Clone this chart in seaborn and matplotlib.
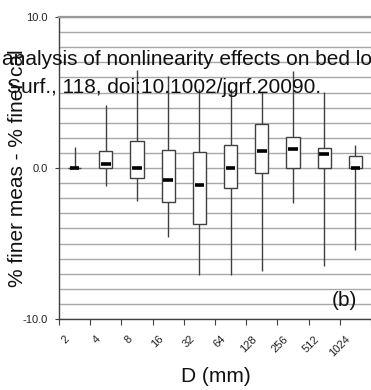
import numpy as np
import pandas as pd
import matplotlib
matplotlib.use("Agg")
import matplotlib.pyplot as plt
from matplotlib.transforms import ScaledTranslation
import seaborn as sns

# Grain-size classes (mm) and the five-number summary of the residuals
sizes = ["2", "4", "8", "16", "32", "64", "128", "256", "512", "1024"]
whisker_low = [0.0, -1.17, -2.2, -4.6, -7.07, -7.07, -6.85, -2.3, -6.47, -5.41]
q1 = [0.0, 0.0, -0.66, -2.28, -3.7, -1.32, -0.33, 0.0, 0.0, 0.0]
median = [0.0, 0.28, 0.0, -0.78, -1.1, 0.0, 1.1, 1.28, 0.93, 0.0]
q3 = [0.0, 1.1, 1.76, 1.17, 1.03, 1.52, 2.93, 2.05, 1.32, 0.81]
whisker_high = [1.4, 4.2, 6.5, 6.1, 5.2, 5.2, 5.05, 6.4, 5.05, 1.5]

ytick_values = [-10, 0, 10]
ytick_labels = ["-10.0", "0.0", "10.0"]

citation_line1 = "analysis of nonlinearity effects on bed load"
citation_line2 = "Surf., 118, doi:10.1002/jgrf.20090."

# long-form table: each class carries its own summary values
rows = []
for s, lo, a, m, b, hi in zip(sizes, whisker_low, q1, median, q3, whisker_high):
    for v in (lo, a, m, b, hi):
        rows.append({"D": s, "diff": v})
df = pd.DataFrame(rows)

sns.set_theme(style="white")
plt.rcParams["font.family"] = ["Liberation Sans", "DejaVu Sans"]
plt.rcParams["axes.unicode_minus"] = False

W, H = 371, 390
fig = plt.figure(figsize=(W / 100, H / 100), dpi=100)
ax = fig.add_axes([59 / W, 1 - 319 / H, 312 / W, 302 / H])
ax.set_facecolor("white")

edge = "#404040"
median_width = 2.6
sns.boxplot(
    data=df, x="D", y="diff", order=sizes, ax=ax,
    whis=(0, 100), width=0.42, showcaps=False, showfliers=False,
    boxprops=dict(facecolor="white", edgecolor=edge, linewidth=1.0),
    whiskerprops=dict(color=edge, linewidth=1.0),
    medianprops=dict(color="black", linewidth=median_width),
    linecolor=edge,
)

# median bars a little narrower than the boxes
for line in ax.lines:
    if abs(line.get_linewidth() - median_width) < 1e-6:
        xd = np.asarray(line.get_xdata(), dtype=float)
        c = xd.mean()
        half = (xd.max() - xd.min()) / 2 * 0.72
        line.set_xdata([c - half, c + half])

ax.set_xlim(-0.5, len(sizes) - 0.5)
ax.set_ylim(-10, 10)

# horizontal grid every unit, behind the boxes
ax.set_yticks(ytick_values)
ax.set_yticklabels(ytick_labels)
ax.set_yticks(np.arange(-10, 11), minor=True)
ax.grid(True, axis="y", which="both", color="#a8a8a8", linewidth=1.0)
ax.grid(False, axis="x")
ax.set_axisbelow(True)

ax.tick_params(axis="y", which="major", length=3, width=0.8, color=edge,
               pad=5, labelsize=8, labelcolor="#222222", left=True)
ax.tick_params(axis="y", which="minor", length=0)

# category boundaries get the tick marks, the labels sit under the boxes
ax.set_xticks(np.arange(-0.5, len(sizes)), minor=True)
ax.tick_params(axis="x", which="minor", length=4, width=0.8, color=edge,
               bottom=True)
ax.tick_params(axis="x", which="major", length=0, pad=13.3, labelsize=8,
               labelcolor="#222222")
shift = ScaledTranslation(-6.5 / 100, 0, fig.dpi_scale_trans)
for lab in ax.get_xticklabels():
    lab.set_rotation(45)
    lab.set_ha("right")
    lab.set_va("center")
    lab.set_rotation_mode("anchor")
    lab.set_transform(lab.get_transform() + shift)

for side in ("left", "bottom"):
    ax.spines[side].set_color(edge)
    ax.spines[side].set_linewidth(1.0)
ax.spines["right"].set_visible(False)
ax.spines["top"].set_color("#999999")
ax.spines["top"].set_linewidth(1.6)

ax.set_xlabel("D (mm)", fontsize=15, color="#111111")
ax.xaxis.set_label_coords(0.503, -0.158)
ax.set_ylabel("% finer meas - % finer cal", fontsize=15, color="#111111")
ax.yaxis.set_label_coords(-0.103, 0.5)

ax.text(0.955, -9.15, "(b)", transform=ax.get_yaxis_transform(),
        ha="right", va="baseline", fontsize=15, color="#111111")

# citation banner printed across the top of the panel
fig.text(2 / W, 1 - 65 / H, citation_line1, fontsize=15, color="#111111",
         ha="left", va="baseline")
fig.text(7 / W, 1 - 93 / H, citation_line2, fontsize=15, color="#111111",
         ha="left", va="baseline")

fig.savefig("out.png", dpi=100, facecolor="white")
